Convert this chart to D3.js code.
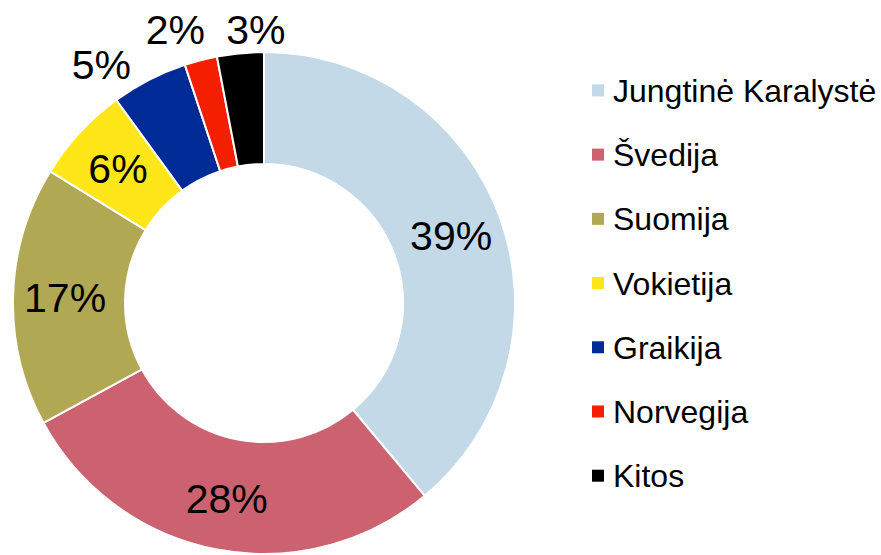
<!DOCTYPE html>
<html lang="lt">
<head>
    <meta charset="UTF-8">
    <title>Donut chart</title>
    <style>
        body {
            margin: 0;
            background: #ffffff;
            font-family: "Liberation Sans", Arial, Helvetica, sans-serif;
        }
        .slice-label {
            font-size: 41px;
            fill: #000;
        }
        .legend-label {
            font-size: 32px;
            fill: #000;
        }
    </style>
</head>
<body>
    <div id="chart"></div>

    <script src="https://d3js.org/d3.v7.min.js"></script>
    <script>
        // Data (shares, %)
        const categories = ['Jungtinė Karalystė', 'Švedija', 'Suomija', 'Vokietija', 'Graikija', 'Norvegija', 'Kitos'];
        const shares = [38.9, 28.1, 16.7, 6.2, 4.9, 2.1, 3.0];
        const labels = ['39%', '28%', '17%', '6%', '5%', '2%', '3%'];
        const colors = ['#c3d9e8', '#cc626f', '#b1a854', '#ffe619', '#002b96', '#f41f00', '#000000'];

        const width = 881;
        const height = 555;
        const cx = 264, cy = 303;
        const outerR = 251, innerR = 139;

        const svg = d3.select('#chart')
            .append('svg')
            .attr('width', width)
            .attr('height', height);

        const data = categories.map((c, i) => ({ name: c, value: shares[i], label: labels[i], color: colors[i] }));

        const pie = d3.pie()
            .sort(null)
            .value(d => d.value);

        const arc = d3.arc()
            .innerRadius(innerR)
            .outerRadius(outerR);

        const labelArc = d3.arc()
            .innerRadius(199)
            .outerRadius(199);

        const outerLabelArc = d3.arc()
            .innerRadius(288)
            .outerRadius(288);

        const g = svg.append('g')
            .attr('transform', `translate(${cx},${cy})`);

        const arcs = pie(data);

        g.selectAll('path')
            .data(arcs)
            .enter()
            .append('path')
            .attr('d', arc)
            .attr('fill', d => d.data.color)
            .attr('stroke', '#ffffff')
            .attr('stroke-width', 2);

        // small slices get their label outside the ring, nudged like the original
        const nudge = {
            'Graikija': [-31, 17],
            'Norvegija': [-16, 5],
            'Kitos': [19, 13]
        };

        g.selectAll('text.slice-label')
            .data(arcs)
            .enter()
            .append('text')
            .attr('class', 'slice-label')
            .attr('text-anchor', 'middle')
            .attr('dy', '0.36em')
            .attr('transform', d => {
                const inside = d.data.value > 5.5;
                const p = inside ? labelArc.centroid(d) : outerLabelArc.centroid(d);
                const n = nudge[d.data.name] || [0, 0];
                return `translate(${p[0] + n[0]},${p[1] + n[1]})`;
            })
            .text(d => d.data.label);

        // Legend
        const legendY = d3.scalePoint()
            .domain(categories)
            .range([90.4, 475.7]);

        const legend = svg.append('g');

        const items = legend.selectAll('g')
            .data(data)
            .enter()
            .append('g')
            .attr('transform', d => `translate(592,${legendY(d.name)})`);

        items.append('rect')
            .attr('x', 0)
            .attr('y', -6)
            .attr('width', 12)
            .attr('height', 12)
            .attr('fill', d => d.color);

        items.append('text')
            .attr('class', 'legend-label')
            .attr('x', 21)
            .attr('y', 11.5)
            .text(d => d.name);
    </script>
</body>
</html>
